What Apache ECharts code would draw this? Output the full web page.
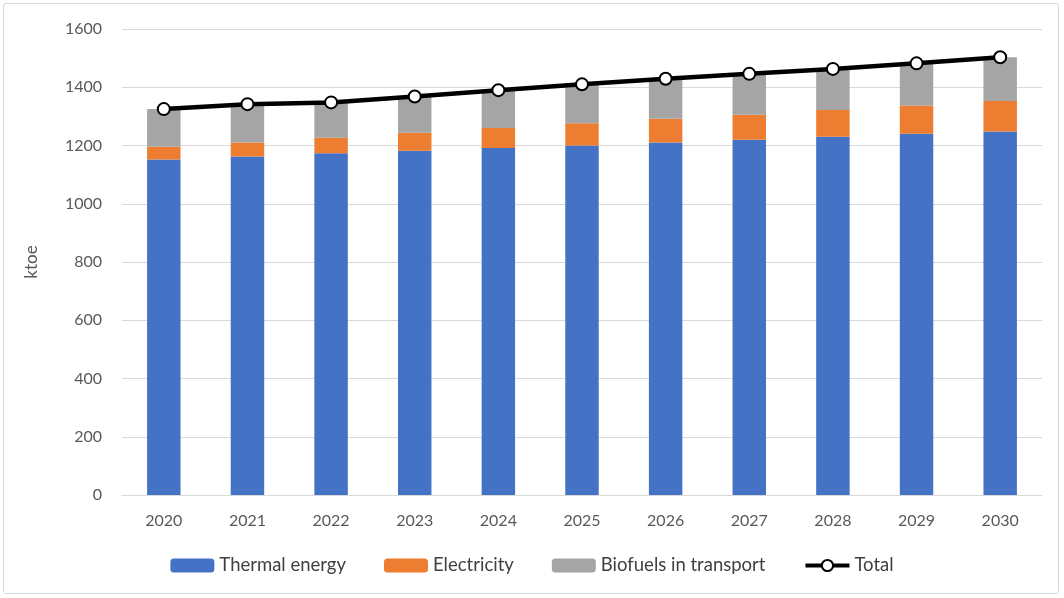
<!DOCTYPE html>
<html><head><meta charset="utf-8">
<script src="https://cdn.jsdelivr.net/npm/echarts@6/dist/echarts.min.js"></script>
<style>
html,body{margin:0;padding:0;background:#fff;}
#frame{position:absolute;left:3px;top:3px;width:1056px;height:591px;border:1px solid #d9d9d9;border-radius:3px;box-sizing:border-box;}
#c{position:absolute;left:0;top:0;width:1064px;height:598px;}
</style></head>
<body>
<div id="frame"></div>
<div id="c"></div>
<script>
const categories = ['2020','2021','2022','2023','2024','2025','2026','2027','2028','2029','2030'];
const thermal = [1152,1162,1173,1182,1191,1200,1210,1220,1230,1240,1248];
const electricity = [44,48,54,62,69,76,82,86,92,97,105];
const biofuels = [129,132,121,124,130,134,137,140,141,145,150];
const total = [1325,1342,1348,1368,1390,1410,1429,1446,1463,1482,1503];

const font = 'Lato, "Open Sans", sans-serif';
const chart = echarts.init(document.getElementById('c'));
chart.setOption({
  animation:false,
  textStyle:{fontFamily:font},
  grid:{left:122,right:22,top:29,bottom:103},
  legend:{
    bottom:18,left:'center',itemGap:38,itemWidth:44,itemHeight:14,
    textStyle:{fontSize:18.5,color:'#404040',fontFamily:font},
    data:['Thermal energy','Electricity','Biofuels in transport',
      {name:'Total',itemStyle:{color:'#fff',borderColor:'#000',borderWidth:2},lineStyle:{width:4,color:'#000'}}]
  },
  xAxis:{type:'category',data:categories,
    axisLine:{lineStyle:{color:'#d9d9d9',width:1}},axisTick:{show:false},
    axisLabel:{fontSize:16,color:'#595959',margin:18,fontFamily:font}},
  yAxis:{type:'value',min:0,max:1600,interval:200,name:'ktoe',nameLocation:'middle',nameGap:82,
    nameTextStyle:{fontSize:17,color:'#595959',fontFamily:font},
    axisLabel:{fontSize:16,color:'#595959',margin:20,fontFamily:font,formatter:function(v){return String(v);}},
    splitLine:{lineStyle:{color:'#d9d9d9',width:1}},axisLine:{show:false},axisTick:{show:false}},
  series:[
    {name:'Thermal energy',type:'bar',stack:'a',data:thermal,barWidth:'40%',itemStyle:{color:'#4472C4'}},
    {name:'Electricity',type:'bar',stack:'a',data:electricity,itemStyle:{color:'#ED7D31'}},
    {name:'Biofuels in transport',type:'bar',stack:'a',data:biofuels,itemStyle:{color:'#A5A5A5'}},
    {name:'Total',type:'line',data:total,symbol:'circle',symbolSize:12,
      lineStyle:{color:'#000',width:4.5},itemStyle:{color:'#fff',borderColor:'#000',borderWidth:2},z:5}
  ]
});
</script>
</body></html>
